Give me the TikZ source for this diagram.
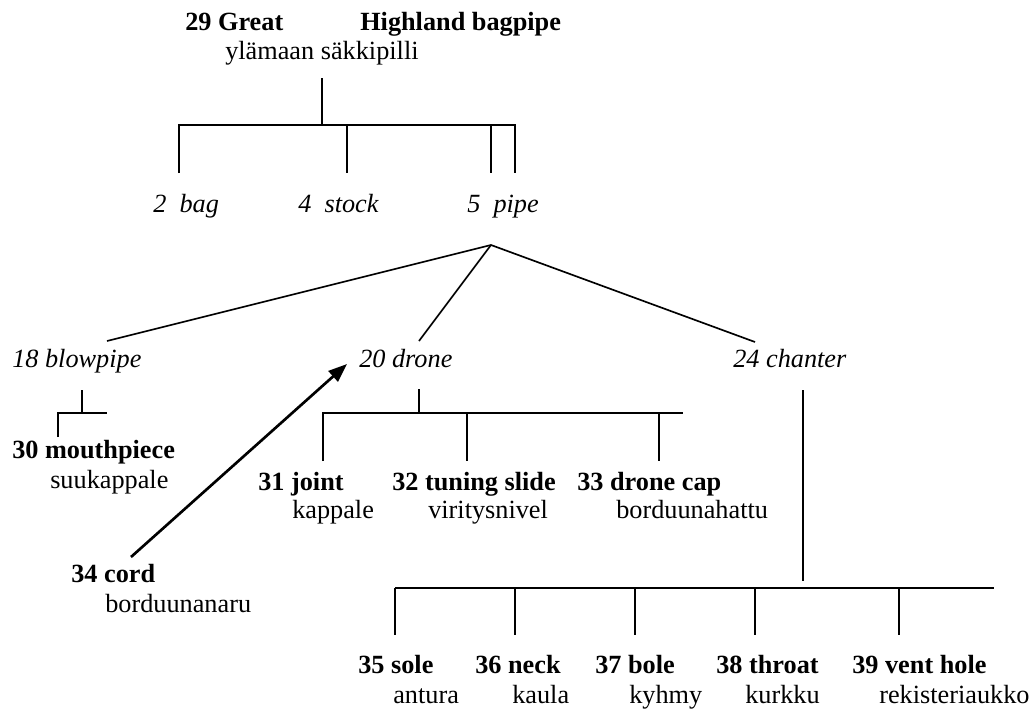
\documentclass[tikz,border=0pt]{standalone}
\usepackage{fontspec}
\setmainfont{Liberation Serif}
\usetikzlibrary{arrows.meta}
\begin{document}
\begin{tikzpicture}[x=0.75pt,y=-0.75pt,
  lbl/.style={anchor=base west,inner sep=0pt,font=\fontsize{19.7}{23}\selectfont},
  term/.style={lbl,font=\fontsize{19.7}{23}\selectfont\bfseries},
  part/.style={lbl,font=\fontsize{19.7}{23}\selectfont\itshape},
  link/.style={line width=1.25pt},
  ptr/.style={line width=2pt,-{Triangle[length=14pt,width=10.5pt]}}]
\useasboundingbox (0,0) rectangle (1034,711);

% top entry
\node[term] (t29a) at (185,30) {29 Great};
\node[term] (t29b) at (360,30) {Highland bagpipe};
\node[lbl] (t29f) at (225,59) {ylämaan säkkipilli};

\coordinate (r0) at (322,78);
\coordinate (r1) at (322,125);
\coordinate (bagT) at (179,125); \coordinate (bagB) at (179,173);
\coordinate (stkT) at (347,125); \coordinate (stkB) at (347,173);
\coordinate (pipT) at (491,125); \coordinate (pipB) at (491,173);
\coordinate (endT) at (515,125); \coordinate (endB) at (515,173);
\draw[link] (r0) -- (r1);
\draw[link] (bagB) -- (bagT) -- (endT) -- (endB);
\draw[link] (stkT) -- (stkB);
\draw[link] (pipT) -- (pipB);

\node[part] (p2) at (153,212) {2\ \ bag};
\node[part] (p4) at (298,212) {4\ \ stock};
\node[part] (p5) at (467,212) {5\ \ pipe};

% pipe branches
\coordinate (apex) at (491,245);
\node[part] (p18) at (12,367) {18 blowpipe};
\node[part] (p20) at (359,367) {20 drone};
\node[part] (p24) at (733,367) {24 chanter};
\coordinate (e18) at (107,341);
\coordinate (e20) at (419,341);
\coordinate (e24) at (755,342);
\draw[link] (e18) -- (apex) -- (e24);
\draw[link] (apex) -- (e20);

% blowpipe
\coordinate (bp0) at (82,390); \coordinate (bp1) at (82,413);
\coordinate (bpL) at (58,413); \coordinate (bpR) at (107,413);
\coordinate (bpB) at (58,437);
\draw[link] (bp0) -- (bp1);
\draw[link] (bpB) -- (bpL) -- (bpR);
\node[term] (t30) at (12,458) {30 mouthpiece};
\node[lbl] (t30f) at (50,488) {suukappale};

% drone
\coordinate (dr0) at (419,389); \coordinate (dr1) at (419,413);
\coordinate (drL) at (323,413); \coordinate (drR) at (683,413);
\coordinate (d31B) at (323,461);
\coordinate (d32T) at (467,413); \coordinate (d32B) at (467,461);
\coordinate (d33T) at (659,413); \coordinate (d33B) at (659,461);
\draw[link] (dr0) -- (dr1);
\draw[link] (d31B) -- (drL) -- (drR);
\draw[link] (d32T) -- (d32B);
\draw[link] (d33T) -- (d33B);
\node[term] (t31) at (258,490) {31 joint};
\node[lbl] (t31f) at (292,518) {kappale};
\node[term] (t32) at (392,490) {32 tuning slide};
\node[lbl] (t32f) at (428,518) {viritysnivel};
\node[term] (t33) at (577,490) {33 drone cap};
\node[lbl] (t33f) at (616,518) {borduunahattu};

% cord
\node[term] (t34) at (71,582) {34 cord};
\node[lbl] (t34f) at (105,612) {borduunanaru};
\coordinate (cordT) at (131,557);
\coordinate (droneA) at (347,364);
\draw[ptr] (cordT) -- (droneA);

% chanter
\coordinate (ch0) at (803,390); \coordinate (ch1) at (803,581);
\coordinate (chL) at (395,588); \coordinate (chR) at (994,588);
\draw[link] (ch0) -- (ch1);
\draw[link] (chL) -- (chR);
\foreach \x/\n in {395/35,515/36,635/37,755/38,899/39}{
  \coordinate (c\n T) at (\x,588);
  \coordinate (c\n B) at (\x,635);
  \draw[link] (c\n T) -- (c\n B);
}
\node[term] (t35) at (358,673) {35 sole};
\node[term] (t36) at (475,673) {36 neck};
\node[term] (t37) at (595,673) {37 bole};
\node[term] (t38) at (716,673) {38 throat};
\node[term] (t39) at (852,673) {39 vent hole};
\node[lbl] (t35f) at (393,703) {antura};
\node[lbl] (t36f) at (512,703) {kaula};
\node[lbl] (t37f) at (629,703) {kyhmy};
\node[lbl] (t38f) at (745,703) {kurkku};
\node[lbl] (t39f) at (879,703) {rekisteriaukko};
\end{tikzpicture}
\end{document}
